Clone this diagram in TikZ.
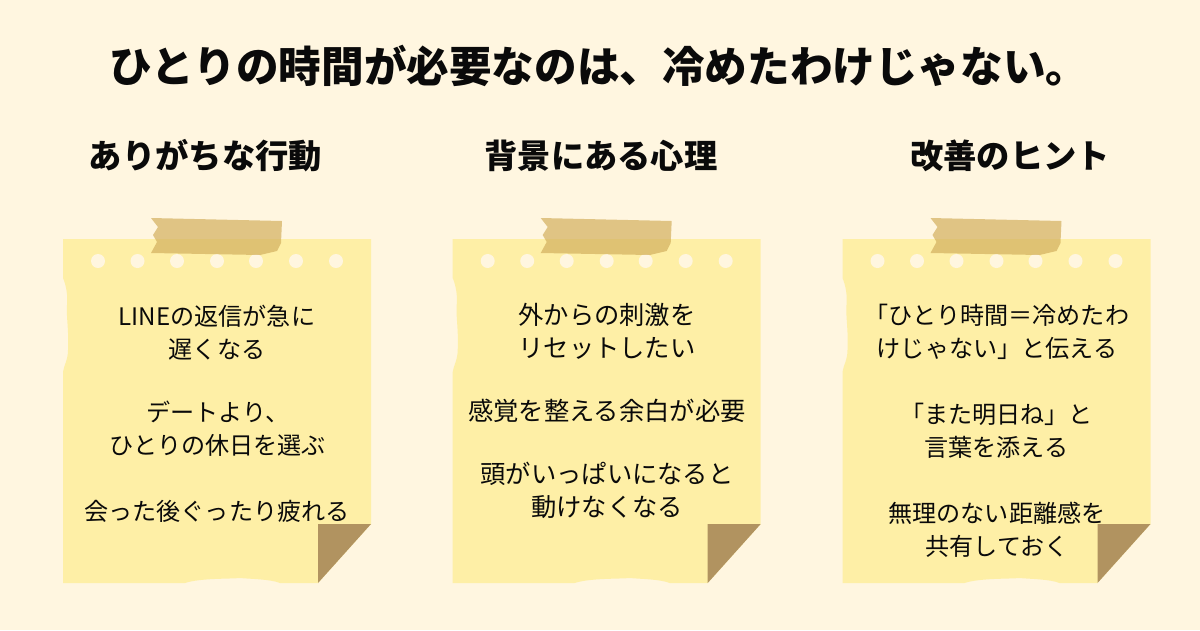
\documentclass[tikz,border=0pt]{standalone}
\usepackage{fontspec}
\setmainfont{Noto Sans CJK JP}
\definecolor{pagecol}{HTML}{FFF6E0}
\definecolor{papercol}{HTML}{FEEFA6}
\definecolor{tapecol}{HTML}{D3B05E}
\definecolor{foldcol}{HTML}{B19360}
\definecolor{inkcol}{HTML}{0A0A0A}
\tikzset{
	titletext/.style={text=inkcol, font=\fontsize{42.6}{50}\selectfont\bfseries, inner sep=0pt},
	headtext/.style={text=inkcol, font=\fontsize{33.3}{40}\selectfont\bfseries, inner sep=0pt},
	bodytext/.style={text=inkcol, font=\fontsize{24.1}{33}\selectfont, align=center, inner sep=0pt},
	bodywide/.style={bodytext, font=\fontsize{25.3}{33}\selectfont},
}
\begin{document}
\begin{tikzpicture}[x=1pt, y=-1pt]

	% page
	\fill [pagecol] (0,0) rectangle (1200,630);
	\useasboundingbox (0,0) rectangle (1200,630);

	% notes
	\foreach \shiftx in {0,389.7,779.5} {
		\begin{scope}[xshift=\shiftx pt]
			\fill [papercol]
				(63,239) -- (371,239) -- (371,524) -- (318,583) -- (280,583)
				.. controls (270,579) and (250,579) .. (240,578)
				.. controls (230,579) and (200,578) .. (185,583)
				-- (63,583) -- (63,372)
				.. controls (64,365) and (68,360) .. (68,350)
				.. controls (69,330) and (66,315) .. (67,305)
				.. controls (68,295) and (66,285) .. (63,278)
				-- cycle;
			\fill [foldcol] (318,583) -- (318,524) -- (371,524) -- cycle;
			\foreach \dotx in {98,137.5,177,217,256,296,336}
				\fill [pagecol] (\dotx,261) circle (7);
			\fill [tapecol, opacity=0.7]
				(151,218) -- (282,221) -- (281,243) -- (277,251) -- (260,255)
				-- (151,253) -- (157,242) -- (153,235) -- (158,227) -- cycle;
		\end{scope}
	}

	% title and headings
	\node [titletext] (title) at (599,66) {ひとりの時間が必要なのは、冷めたわけじゃない。};
	\node [headtext] (headact) at (205.5,156) {ありがちな行動};
	\node [headtext] (headmind) at (601,156) {背景にある心理};
	\node [headtext] (headhint) at (1010,156) {改善のヒント};

	% left note
	\node [bodytext] (act1) at (217,332.5) {LINEの返信が急に\\遅くなる};
	\node [bodytext] (act2) at (218,428.5) {デートより、\\ひとりの休日を選ぶ};
	\node [bodytext] (act3) at (217,511.5) {会った後ぐったり疲れる};

	% middle note
	\node [bodywide] (mind1) at (607,331) {外からの刺激を\\リセットしたい};
	\node [bodywide] (mind2) at (607,411) {感覚を整える余白が必要};
	\node [bodywide] (mind3) at (607,490) {頭がいっぱいになると\\動けなくなる};

	% right note
	\node [bodytext] (hint1) at (997,331.5) {「ひとり時間＝冷めたわ\\けじゃない」と伝える};
	\node [bodytext] (hint2) at (996.5,430.5) {「また明日ね」と\\言葉を添える};
	\node [bodytext] (hint3) at (997,530) {無理のない距離感を\\共有しておく};

\end{tikzpicture}
\end{document}
